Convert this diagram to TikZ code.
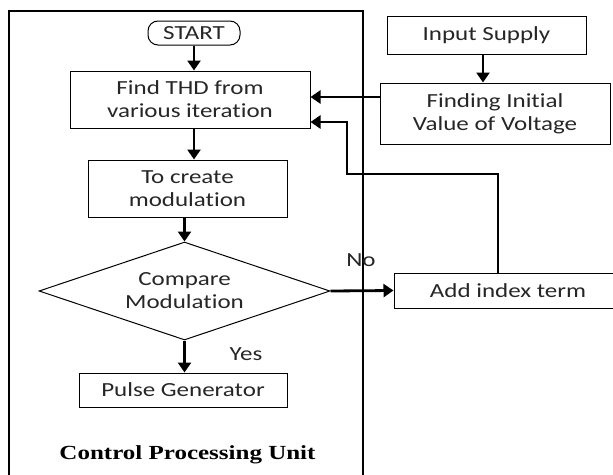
\documentclass[tikz,border=0pt]{standalone}
\usepackage{fontspec}
\setmainfont{Carlito}[FakeStretch=1.25, Ligatures=NoCommon]
\newfontfamily\unitfont{Liberation Serif}[FakeStretch=1.25]
\usepackage{tikz}
\usetikzlibrary{shapes.geometric, arrows.meta}

\begin{document}
\begin{tikzpicture}[x=1pt, y=-1pt,
  block/.style={draw, line width=1pt, inner sep=0pt, align=center,
                text=black!85, font=\fontsize{20}{23}\selectfont},
  term/.style={block, rounded corners=10pt},
  decide/.style={block, diamond, shape aspect=2.97},
  flow/.style={-{Triangle[length=10pt, width=13pt]}, line width=2.8pt},
  lbl/.style={text=black!85, font=\fontsize{20}{23}\selectfont},
]
\useasboundingbox (0,0) rectangle (613,474);
\clip (0,0) rectangle (613,474);

% Unit frame
\draw[line width=1.2pt] (9,490) -- (9,11) -- (363,11) -- (363,490);

\node[term, minimum width=92pt, minimum height=24pt] (start) at (194,33) {START};
\node[block, minimum width=240pt, minimum height=57pt] (thd) at (190,99.5)
{Find THD from\\various iteration};
\node[block, minimum width=199pt, minimum height=57pt] (create) at (187.5,188.5)
{To create\\modulation};
\node[decide, minimum width=291pt, minimum height=98pt] (cmp) at (184.5,291)
{Compare\\Modulation};
\node[block, minimum width=208pt, minimum height=34pt] (pulse) at (183,390)
{Pulse Generator};

\node[block, minimum width=199pt, minimum height=38pt] (input) at (486.5,35)
{Input Supply};
\node[block, minimum width=230pt, minimum height=61pt] (fin) at (495,113.5)
{Finding Initial\\Value of Voltage};
\node[block, minimum width=228pt, minimum height=35pt] (add) at (508,290.5)
{Add index term};

\node[lbl] (no) at (361,260) {No};
\node[lbl] (yes) at (246,354) {Yes};
\node[font=\unitfont\bfseries\fontsize{20}{24}\selectfont] (cpu) at (187.5,455)
{Control Processing Unit};

% Arrows
\coordinate (turn) at (347,174);
\draw[flow] (start) -- (start |- thd.north);
\draw[flow] (thd.south -| start) -- (create.north -| start);
\draw[flow] (create.south -| cmp) -- (cmp.north);
\draw[flow] (cmp.south) -- (pulse.north -| cmp);
\draw[flow] (input.south -| 483,0) -- (fin.north -| 483,0);
\draw[flow] (fin.west |- 0,97) -- (thd.east |- 0,97);
\draw[flow] (cmp.east) -- (add.west);
\draw[flow] ([xshift=-10pt]add.north) |- (turn) |- ([yshift=-22.5pt]thd.east);
\end{tikzpicture}
\end{document}
